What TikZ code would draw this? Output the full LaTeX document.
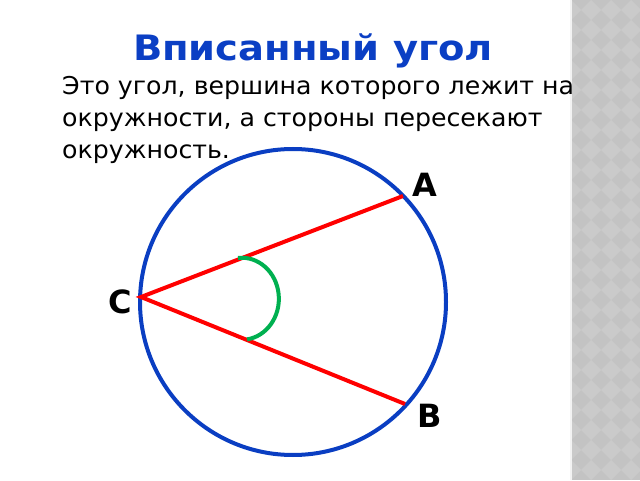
\documentclass[tikz,border=0pt]{standalone}
\usepackage{fontspec}
\setmainfont{DejaVu Sans}
\newfontfamily\headingfont[FakeStretch=1.1]{DejaVu Sans Bold}
\newfontfamily\bodyfont[FakeStretch=1.03]{DejaVu Sans}
\definecolor{titleblue}{HTML}{0B3FC4}
\definecolor{circleblue}{HTML}{0A3EC2}
\definecolor{anglegreen}{HTML}{00B050}
\definecolor{stripgray}{HTML}{C3C3C3}
\definecolor{diamondgray}{HTML}{CACACA}
\begin{document}
\begin{tikzpicture}[x=1pt, y=1pt]
	\tikzstyle{heading}=[font=\fontsize{35}{40}\headingfont, text=titleblue, inner sep=0pt, anchor=base]
	\tikzstyle{body}=[font=\fontsize{24.5}{32}\bodyfont, inner sep=0pt, anchor=base west]
	\tikzstyle{pointname}=[font=\fontsize{32}{38}\selectfont\bfseries, inner sep=0pt]
	\tikzstyle{side}=[draw=red, line width=4pt]
	\useasboundingbox (0, 0) rectangle (640, 480);

	% patterned strip on the right
	\fill[stripgray] (570, 0) rectangle (640, 480);
	\begin{scope}
	\clip (571, 0) rectangle (640, 480);
	\foreach \i in {0,...,4} \foreach \j in {0,...,24} {
		\fill[diamondgray] (571+20*\i, 20*\j) -- ++(10, 10) -- ++(-10, 10) -- ++(-10, -10) -- cycle;
	}
	\end{scope}
	\fill[white!80!stripgray] (570, 0) rectangle (572, 480);

	\draw node[heading] at (313, 419) (title) {Вписанный угол};
	\draw node[body] at (62, 385) (line1) {Это угол, вершина которого лежит на};
	\draw node[body] at (62, 353) (line2) {окружности, а стороны пересекают};
	\draw node[body] at (62, 321) (line3) {окружность.};

	\coordinate (O) at (293, 178);
	\coordinate (C) at (141, 183);
	\coordinate (A) at (403, 284);
	\coordinate (B) at (405, 76);

	\draw [circleblue, line width=4pt] (O) circle (153pt);
	\draw [side] (A) -- (C) -- (B);
	\draw [anglegreen, line width=4pt] (238, 222) arc[start angle=96, end angle=-82, x radius=37pt, y radius=41pt];

	\draw node[pointname] at (425, 295) (labelA) {A};
	\draw node[pointname] at (430, 64) (labelB) {B};
	\draw node[pointname] at (120, 178) (labelC) {C};
\end{tikzpicture}
\end{document}
